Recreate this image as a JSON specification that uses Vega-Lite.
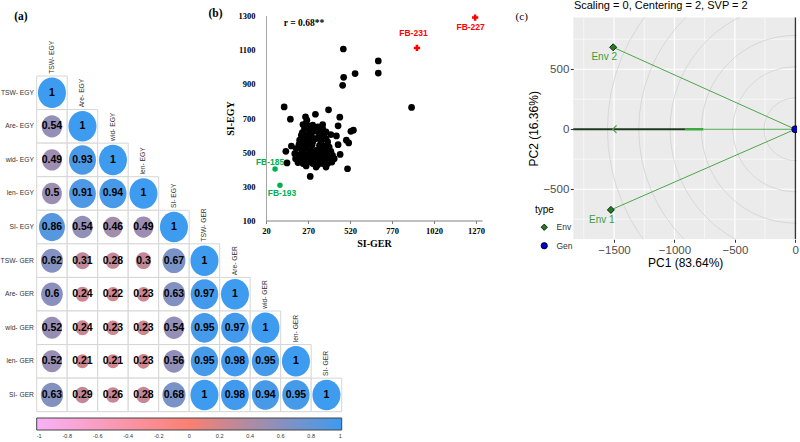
{
"$schema": "https://vega.github.io/schema/vega-lite/v6.json",
"width": 800, "height": 442, "padding": 0, "autosize": {"type": "none"},
"background": "white",
"config": {"view": {"stroke": null}, "font": "Liberation Sans", "axis": {"zindex": 1}},
"datasets": {
"corr": [
{"r":1,"c":1,"v":1},
{"r":2,"c":1,"v":0.54},{"r":2,"c":2,"v":1},
{"r":3,"c":1,"v":0.49},{"r":3,"c":2,"v":0.93},{"r":3,"c":3,"v":1},
{"r":4,"c":1,"v":0.5},{"r":4,"c":2,"v":0.91},{"r":4,"c":3,"v":0.94},{"r":4,"c":4,"v":1},
{"r":5,"c":1,"v":0.86},{"r":5,"c":2,"v":0.54},{"r":5,"c":3,"v":0.46},{"r":5,"c":4,"v":0.49},{"r":5,"c":5,"v":1},
{"r":6,"c":1,"v":0.62},{"r":6,"c":2,"v":0.31},{"r":6,"c":3,"v":0.28},{"r":6,"c":4,"v":0.3},{"r":6,"c":5,"v":0.67},{"r":6,"c":6,"v":1},
{"r":7,"c":1,"v":0.6},{"r":7,"c":2,"v":0.24},{"r":7,"c":3,"v":0.22},{"r":7,"c":4,"v":0.23},{"r":7,"c":5,"v":0.63},{"r":7,"c":6,"v":0.97},{"r":7,"c":7,"v":1},
{"r":8,"c":1,"v":0.52},{"r":8,"c":2,"v":0.24},{"r":8,"c":3,"v":0.23},{"r":8,"c":4,"v":0.23},{"r":8,"c":5,"v":0.54},{"r":8,"c":6,"v":0.95},{"r":8,"c":7,"v":0.97},{"r":8,"c":8,"v":1},
{"r":9,"c":1,"v":0.52},{"r":9,"c":2,"v":0.21},{"r":9,"c":3,"v":0.21},{"r":9,"c":4,"v":0.23},{"r":9,"c":5,"v":0.56},{"r":9,"c":6,"v":0.95},{"r":9,"c":7,"v":0.98},{"r":9,"c":8,"v":0.95},{"r":9,"c":9,"v":1},
{"r":10,"c":1,"v":0.63},{"r":10,"c":2,"v":0.29},{"r":10,"c":3,"v":0.26},{"r":10,"c":4,"v":0.28},{"r":10,"c":5,"v":0.68},{"r":10,"c":6,"v":1},{"r":10,"c":7,"v":0.98},{"r":10,"c":8,"v":0.94},{"r":10,"c":9,"v":0.95},{"r":10,"c":10,"v":1}
],
"vars": [
{"i":1,"name":"TSW- EGY"},{"i":2,"name":"Are- EGY"},{"i":3,"name":"wid- EGY"},{"i":4,"name":"len- EGY"},{"i":5,"name":"SI- EGY"},
{"i":6,"name":"TSW- GER"},{"i":7,"name":"Are- GER"},{"i":8,"name":"wid- GER"},{"i":9,"name":"len- GER"},{"i":10,"name":"SI- GER"}
],
"si": [
{"ger":128,"egy":765,"g":"n"},{"ger":165,"egy":693,"g":"n"},{"ger":255,"egy":707,"g":"n"},{"ger":263,"egy":687,"g":"n"},{"ger":314,"egy":722,"g":"n"},
{"ger":392,"egy":748,"g":"n"},{"ger":459,"egy":705,"g":"n"},{"ger":449,"egy":654,"g":"n"},{"ger":439,"egy":595,"g":"n"},{"ger":449,"egy":544,"g":"n"},
{"ger":461,"egy":487,"g":"n"},{"ger":505,"egy":403,"g":"n"},{"ger":498,"egy":570,"g":"n"},{"ger":512,"egy":554,"g":"n"},{"ger":540,"egy":629,"g":"n"},
{"ger":525,"egy":622,"g":"n"},{"ger":138,"egy":505,"g":"n"},{"ger":171,"egy":536,"g":"n"},{"ger":145,"egy":437,"g":"n"},{"ger":283,"egy":358,"g":"n"},
{"ger":480,"egy":1104,"g":"n"},{"ger":482,"egy":938,"g":"n"},{"ger":476,"egy":891,"g":"n"},{"ger":550,"egy":960,"g":"n"},{"ger":688,"egy":1034,"g":"n"},
{"ger":688,"egy":963,"g":"n"},{"ger":886,"egy":762,"g":"n"},
{"ger":240,"egy":662,"g":"n"},{"ger":269,"egy":654,"g":"n"},{"ger":298,"egy":658,"g":"n"},{"ger":328,"egy":648,"g":"n"},{"ger":357,"egy":638,"g":"n"},
{"ger":249,"egy":638,"g":"n"},{"ger":279,"egy":628,"g":"n"},{"ger":314,"egy":623,"g":"n"},{"ger":341,"egy":619,"g":"n"},{"ger":367,"egy":609,"g":"n"},
{"ger":236,"egy":615,"g":"n"},{"ger":263,"egy":603,"g":"n"},{"ger":289,"egy":599,"g":"n"},{"ger":357,"egy":589,"g":"n"},{"ger":377,"egy":579,"g":"n"},
{"ger":240,"egy":589,"g":"n"},{"ger":220,"egy":570,"g":"n"},{"ger":249,"egy":570,"g":"n"},{"ger":275,"egy":576,"g":"n"},{"ger":347,"egy":564,"g":"n"},
{"ger":387,"egy":560,"g":"n"},{"ger":216,"egy":544,"g":"n"},{"ger":243,"egy":540,"g":"n"},{"ger":269,"egy":550,"g":"n"},{"ger":294,"egy":540,"g":"n"},
{"ger":338,"egy":540,"g":"n"},{"ger":367,"egy":536,"g":"n"},{"ger":396,"egy":530,"g":"n"},{"ger":200,"egy":521,"g":"n"},{"ger":230,"egy":517,"g":"n"},
{"ger":259,"egy":521,"g":"n"},{"ger":283,"egy":511,"g":"n"},{"ger":318,"egy":511,"g":"n"},{"ger":347,"egy":511,"g":"n"},{"ger":377,"egy":511,"g":"n"},
{"ger":406,"egy":505,"g":"n"},{"ger":191,"egy":491,"g":"n"},{"ger":216,"egy":485,"g":"n"},{"ger":240,"egy":491,"g":"n"},{"ger":269,"egy":485,"g":"n"},
{"ger":298,"egy":485,"g":"n"},{"ger":328,"egy":482,"g":"n"},{"ger":357,"egy":482,"g":"n"},{"ger":387,"egy":478,"g":"n"},{"ger":416,"egy":482,"g":"n"},
{"ger":196,"egy":462,"g":"n"},{"ger":224,"egy":458,"g":"n"},{"ger":249,"egy":462,"g":"n"},{"ger":279,"egy":458,"g":"n"},{"ger":308,"egy":462,"g":"n"},
{"ger":338,"egy":452,"g":"n"},{"ger":367,"egy":452,"g":"n"},{"ger":396,"egy":458,"g":"n"},{"ger":426,"egy":462,"g":"n"},{"ger":210,"egy":439,"g":"n"},
{"ger":240,"egy":433,"g":"n"},{"ger":269,"egy":442,"g":"n"},{"ger":298,"egy":433,"g":"n"},{"ger":328,"egy":427,"g":"n"},{"ger":357,"egy":433,"g":"n"},
{"ger":387,"egy":433,"g":"n"},{"ger":412,"egy":442,"g":"n"},{"ger":259,"egy":419,"g":"n"},{"ger":318,"egy":413,"g":"n"},{"ger":377,"egy":413,"g":"n"},
{"ger":289,"egy":472,"g":"n"},{"ger":314,"egy":579,"g":"n"},{"ger":334,"egy":589,"g":"n"},{"ger":298,"egy":560,"g":"n"},{"ger":230,"egy":599,"g":"n"},
{"ger":377,"egy":619,"g":"n"},{"ger":406,"egy":603,"g":"n"},{"ger":259,"egy":668,"g":"n"},{"ger":289,"egy":638,"g":"n"},{"ger":357,"egy":662,"g":"n"},
{"ger":318,"egy":638,"g":"n"},
{"ger":74,"egy":402,"g":"lo","name":"FB-185"},{"ger":103,"egy":306,"g":"lo","name":"FB-193"},
{"ger":918,"egy":1110,"g":"hi","name":"FB-231"},{"ger":1264,"egy":1288,"g":"hi","name":"FB-227"}
],
"pca": [
{"name":"Env 1","type":"Env","pc1":-1526,"pc2":-672},
{"name":"Env 2","type":"Env","pc1":-1507,"pc2":683},
{"name":"Gen","type":"Gen","pc1":0,"pc2":0}
],
"gridx": [
{"v":-1750,"kind":"minor"},{"v":-1250,"kind":"minor"},{"v":-750,"kind":"minor"},{"v":-250,"kind":"minor"},
{"v":-1500,"kind":"major"},{"v":-1000,"kind":"major"},{"v":-500,"kind":"major"},{"v":0,"kind":"major"}
],
"gridy": [
{"v":750,"kind":"minor"},{"v":250,"kind":"minor"},{"v":-250,"kind":"minor"},{"v":-750,"kind":"minor"},
{"v":500,"kind":"major"},{"v":0,"kind":"major"},{"v":-500,"kind":"major"}
],
"rings": [{"r":260},{"r":520},{"r":780},{"r":1040},{"r":1300},{"r":1560}]
},
"layer": [
{
"layer": [
{"data":{"name":"corr"},"mark":{"type":"rect","fill":"white","stroke":"#D6D6D6","strokeWidth":1},
"encoding":{
"x":{"field":"c","type":"ordinal","scale":{"type":"band","domain":[1,2,3,4,5,6,7,8,9,10],"range":[36.7,341.7],"paddingInner":0,"paddingOuter":0},"axis":null},
"y":{"field":"r","type":"ordinal","scale":{"type":"band","domain":[1,2,3,4,5,6,7,8,9,10],"range":[76,411.7],"paddingInner":0,"paddingOuter":0},"axis":null}}},
{"data":{"name":"corr"},"mark":{"type":"point","filled":true,"opacity":1,"strokeWidth":0,"shape":"M0,-1C0.508,-1,0.92,-0.552,0.92,0C0.92,0.552,0.508,1,0,1C-0.508,1,-0.92,0.552,-0.92,0C-0.92,-0.552,-0.508,-1,0,-1Z"},
"encoding":{
"x":{"field":"c","type":"ordinal","scale":{"type":"band","domain":[1,2,3,4,5,6,7,8,9,10],"range":[36.7,341.7],"paddingInner":0,"paddingOuter":0},"axis":null},
"y":{"field":"r","type":"ordinal","scale":{"type":"band","domain":[1,2,3,4,5,6,7,8,9,10],"range":[76,411.7],"paddingInner":0,"paddingOuter":0},"axis":null},
"color":{"field":"v","type":"quantitative","scale":{"domain":[-1,0,1],"range":["#F8B2F8","#FA8072","#3D9BF0"],"interpolate":"rgb"},
"legend":{"orient":"none","legendX":36.7,"legendY":418,"direction":"horizontal","gradientLength":305,"gradientThickness":12,"title":null,"padding":0,
"values":[-1,-0.8,-0.6,-0.4,-0.2,0,0.2,0.4,0.6,0.8,1],"labelFontSize":5.5,"labelColor":"#333333","labelAlign":"center","labelOffset":4,"labelOverlap":false,
"labelExpr":"datum.value < 0 ? '-' + format(-datum.value, '') : format(datum.value, '')","gradientStrokeColor":"#444444","gradientStrokeWidth":1}},
"size":{"field":"v","type":"quantitative","scale":{"type":"linear","domain":[0,1],"range":[0,930],"zero":true},"legend":null}}},
{"data":{"name":"corr"},"mark":{"type":"text","fontWeight":"bold","fontSize":10.5,"color":"black","baseline":"middle","align":"center"},
"encoding":{
"x":{"field":"c","type":"ordinal","scale":{"type":"band","domain":[1,2,3,4,5,6,7,8,9,10],"range":[36.7,341.7],"paddingInner":0,"paddingOuter":0},"axis":null},
"y":{"field":"r","type":"ordinal","scale":{"type":"band","domain":[1,2,3,4,5,6,7,8,9,10],"range":[76,411.7],"paddingInner":0,"paddingOuter":0},"axis":null},
"text":{"field":"v","type":"nominal"}}},
{"data":{"name":"vars"},"mark":{"type":"text","fontSize":6.7,"color":"#333333","align":"right","baseline":"middle","dx":-18},
"encoding":{
"x":{"datum":1,"type":"ordinal","scale":{"type":"band","domain":[1,2,3,4,5,6,7,8,9,10],"range":[36.7,341.7],"paddingInner":0,"paddingOuter":0},"axis":null},
"y":{"field":"i","type":"ordinal","scale":{"type":"band","domain":[1,2,3,4,5,6,7,8,9,10],"range":[76,411.7],"paddingInner":0,"paddingOuter":0},"axis":null},
"text":{"field":"name","type":"nominal"}}},
{"data":{"name":"vars"},"mark":{"type":"text","fontSize":6.7,"color":"#333333","align":"left","baseline":"middle","angle":270,"yOffset":-19},
"encoding":{
"x":{"field":"i","type":"ordinal","scale":{"type":"band","domain":[1,2,3,4,5,6,7,8,9,10],"range":[36.7,341.7],"paddingInner":0,"paddingOuter":0},"axis":null},
"y":{"field":"i","type":"ordinal","scale":{"type":"band","domain":[1,2,3,4,5,6,7,8,9,10],"range":[76,411.7],"paddingInner":0,"paddingOuter":0},"axis":null},
"text":{"field":"name","type":"nominal"}}},
{"data":{"values":[{"t":"(a)"}]},"mark":{"type":"text","font":"Liberation Serif","fontWeight":"bold","fontSize":11.5,"color":"black","align":"center","baseline":"middle","dx":-31,"dy":-76},
"encoding":{
"x":{"datum":1,"type":"ordinal","scale":{"type":"band","domain":[1,2,3,4,5,6,7,8,9,10],"range":[36.7,341.7],"paddingInner":0,"paddingOuter":0},"axis":null},
"y":{"datum":1,"type":"ordinal","scale":{"type":"band","domain":[1,2,3,4,5,6,7,8,9,10],"range":[76,411.7],"paddingInner":0,"paddingOuter":0},"axis":null},
"text":{"field":"t","type":"nominal"}}}
]
},
{
"layer": [
{"data":{"name":"si"},"transform":[{"filter":"datum.g == 'n'"}],"mark":{"type":"point","filled":true,"opacity":1,"color":"black","size":45,"strokeWidth":0},
"encoding":{
"x":{"field":"ger","type":"quantitative","scale":{"domain":[20,1305],"range":[266,482],"nice":false,"zero":false},
"axis":{"orient":"bottom","offset":-221.5,"zindex":1,"values":[20,270,520,770,1020,1270],"format":"d","title":"SI-GER","grid":false,"domainColor":"#808080","tickColor":"#808080","tickSize":3,
"labelFont":"Liberation Serif","labelFontWeight":"bold","labelFontSize":8.5,"labelColor":"black","labelPadding":3,"labelFlush":false,
"titleFont":"Liberation Serif","titleFontWeight":"bold","titleFontSize":10,"titleColor":"black","titlePadding":3}},
"y":{"field":"egy","type":"quantitative","scale":{"domain":[100,1300],"range":[220.5,15.5],"nice":false,"zero":false},
"axis":{"orient":"left","offset":-266,"zindex":1,"values":[100,300,500,700,900,1100,1300],"format":"d","title":"SI-EGY","grid":false,"ticks":false,"domainColor":"#A6A6A6",
"labelFont":"Liberation Serif","labelFontWeight":"bold","labelFontSize":8.5,"labelColor":"black","labelPadding":11,
"titleFont":"Liberation Serif","titleFontWeight":"bold","titleFontSize":10,"titleColor":"black","titlePadding":3}}}},
{"data":{"name":"si"},"transform":[{"filter":"datum.g == 'lo'"}],"mark":{"type":"point","filled":true,"opacity":1,"color":"#00B050","size":30,"strokeWidth":0},
"encoding":{
"x":{"field":"ger","type":"quantitative","scale":{"domain":[20,1305],"range":[266,482],"nice":false,"zero":false}},
"y":{"field":"egy","type":"quantitative","scale":{"domain":[100,1300],"range":[220.5,15.5],"nice":false,"zero":false}}}},
{"data":{"name":"si"},"transform":[{"filter":"datum.g == 'hi'"}],"mark":{"type":"point","filled":true,"opacity":1,"color":"#FF0000","size":40,"shape":"cross","strokeWidth":0},
"encoding":{
"x":{"field":"ger","type":"quantitative","scale":{"domain":[20,1305],"range":[266,482],"nice":false,"zero":false}},
"y":{"field":"egy","type":"quantitative","scale":{"domain":[100,1300],"range":[220.5,15.5],"nice":false,"zero":false}}}},
{"data":{"name":"si"},"transform":[{"filter":"datum.name == 'FB-185'"}],"mark":{"type":"text","fontWeight":"bold","fontSize":8.5,"color":"#00B050","align":"center","baseline":"middle","dx":-5,"dy":-7},
"encoding":{
"x":{"field":"ger","type":"quantitative","scale":{"domain":[20,1305],"range":[266,482],"nice":false,"zero":false}},
"y":{"field":"egy","type":"quantitative","scale":{"domain":[100,1300],"range":[220.5,15.5],"nice":false,"zero":false}},
"text":{"field":"name","type":"nominal"}}},
{"data":{"name":"si"},"transform":[{"filter":"datum.name == 'FB-193'"}],"mark":{"type":"text","fontWeight":"bold","fontSize":8.5,"color":"#00B050","align":"center","baseline":"middle","dx":2,"dy":8},
"encoding":{
"x":{"field":"ger","type":"quantitative","scale":{"domain":[20,1305],"range":[266,482],"nice":false,"zero":false}},
"y":{"field":"egy","type":"quantitative","scale":{"domain":[100,1300],"range":[220.5,15.5],"nice":false,"zero":false}},
"text":{"field":"name","type":"nominal"}}},
{"data":{"name":"si"},"transform":[{"filter":"datum.name == 'FB-231'"}],"mark":{"type":"text","fontWeight":"bold","fontSize":8.5,"color":"#FF0000","align":"center","baseline":"middle","dx":-3.5,"dy":-15},
"encoding":{
"x":{"field":"ger","type":"quantitative","scale":{"domain":[20,1305],"range":[266,482],"nice":false,"zero":false}},
"y":{"field":"egy","type":"quantitative","scale":{"domain":[100,1300],"range":[220.5,15.5],"nice":false,"zero":false}},
"text":{"field":"name","type":"nominal"}}},
{"data":{"name":"si"},"transform":[{"filter":"datum.name == 'FB-227'"}],"mark":{"type":"text","fontWeight":"bold","fontSize":8.5,"color":"#FF0000","align":"center","baseline":"middle","dx":-4.5,"dy":9},
"encoding":{
"x":{"field":"ger","type":"quantitative","scale":{"domain":[20,1305],"range":[266,482],"nice":false,"zero":false}},
"y":{"field":"egy","type":"quantitative","scale":{"domain":[100,1300],"range":[220.5,15.5],"nice":false,"zero":false}},
"text":{"field":"name","type":"nominal"}}},
{"data":{"values":[{"t":"(b)"}]},"mark":{"type":"text","font":"Liberation Serif","fontWeight":"bold","fontSize":11.5,"color":"black","align":"center","baseline":"middle"},
"encoding":{
"x":{"datum":-280,"type":"quantitative","scale":{"domain":[20,1305],"range":[266,482],"nice":false,"zero":false}},
"y":{"datum":1309,"type":"quantitative","scale":{"domain":[100,1300],"range":[220.5,15.5],"nice":false,"zero":false}},
"text":{"field":"t","type":"nominal"}}},
{"data":{"values":[{"t":"r = 0.68**"}]},"mark":{"type":"text","font":"Liberation Serif","fontWeight":"bold","fontSize":9.5,"color":"black","align":"center","baseline":"middle"},
"encoding":{
"x":{"datum":246,"type":"quantitative","scale":{"domain":[20,1305],"range":[266,482],"nice":false,"zero":false}},
"y":{"datum":1254,"type":"quantitative","scale":{"domain":[100,1300],"range":[220.5,15.5],"nice":false,"zero":false}},
"text":{"field":"t","type":"nominal"}}}
]
},
{
"layer": [
{"data":{"values":[{}]},"mark":{"type":"rect","fill":"#EBEBEB"},
"encoding":{
"x":{"datum":-1837,"type":"quantitative","scale":{"domain":[-1837,14],"range":[573.3,797],"nice":false,"zero":false},
"axis":{"orient":"bottom","offset":-202.7,"zindex":1,"values":[-1500,-1000,-500,0],"format":"d","title":"PC1 (83.64%)","grid":false,"domain":false,"tickColor":"#333333","tickSize":3,
"labelFont":"Liberation Sans","labelFontSize":11.5,"labelColor":"#4D4D4D","labelPadding":2,"labelFlush":false,
"titleFont":"Liberation Sans","titleFontWeight":"normal","titleFontSize":12,"titleColor":"black","titlePadding":2}},
"x2":{"datum":14},
"y":{"datum":-917,"type":"quantitative","scale":{"domain":[-917,933],"range":[239.3,17.3],"nice":false,"zero":false},
"axis":{"orient":"left","offset":-573.3,"zindex":1,"values":[-500,0,500],"format":"d","title":"PC2 (16.36%)","grid":false,"domain":false,"tickColor":"#333333","tickSize":3,
"labelFont":"Liberation Sans","labelFontSize":11.5,"labelColor":"#4D4D4D","labelPadding":1.5,
"titleFont":"Liberation Sans","titleFontWeight":"normal","titleFontSize":12,"titleColor":"black","titlePadding":2}},
"y2":{"datum":933}}},
{"data":{"name":"gridx"},"transform":[{"filter":"datum.kind == 'minor'"}],"mark":{"type":"rule","stroke":"white","strokeWidth":0.6},
"encoding":{
"x":{"field":"v","type":"quantitative","scale":{"domain":[-1837,14],"range":[573.3,797],"nice":false,"zero":false}},
"y":{"datum":-917,"type":"quantitative","scale":{"domain":[-917,933],"range":[239.3,17.3],"nice":false,"zero":false}},
"y2":{"datum":933}}},
{"data":{"name":"gridx"},"transform":[{"filter":"datum.kind == 'major'"}],"mark":{"type":"rule","stroke":"white","strokeWidth":1.2},
"encoding":{
"x":{"field":"v","type":"quantitative","scale":{"domain":[-1837,14],"range":[573.3,797],"nice":false,"zero":false}},
"y":{"datum":-917,"type":"quantitative","scale":{"domain":[-917,933],"range":[239.3,17.3],"nice":false,"zero":false}},
"y2":{"datum":933}}},
{"data":{"name":"gridy"},"transform":[{"filter":"datum.kind == 'minor'"}],"mark":{"type":"rule","stroke":"white","strokeWidth":0.6},
"encoding":{
"y":{"field":"v","type":"quantitative","scale":{"domain":[-917,933],"range":[239.3,17.3],"nice":false,"zero":false}},
"x":{"datum":-1837,"type":"quantitative","scale":{"domain":[-1837,14],"range":[573.3,797],"nice":false,"zero":false}},
"x2":{"datum":14}}},
{"data":{"name":"gridy"},"transform":[{"filter":"datum.kind == 'major'"}],"mark":{"type":"rule","stroke":"white","strokeWidth":1.2},
"encoding":{
"y":{"field":"v","type":"quantitative","scale":{"domain":[-917,933],"range":[239.3,17.3],"nice":false,"zero":false}},
"x":{"datum":-1837,"type":"quantitative","scale":{"domain":[-1837,14],"range":[573.3,797],"nice":false,"zero":false}},
"x2":{"datum":14}}},
{"data":{"name":"rings"},"mark":{"type":"point","shape":"circle","filled":false,"stroke":"#D2D2D2","strokeWidth":0.8,"opacity":1},
"encoding":{
"x":{"datum":0,"type":"quantitative","scale":{"domain":[-1837,14],"range":[573.3,797],"nice":false,"zero":false}},
"y":{"datum":0,"type":"quantitative","scale":{"domain":[-917,933],"range":[239.3,17.3],"nice":false,"zero":false}},
"size":{"field":"r","type":"quantitative","scale":{"type":"pow","exponent":2,"domain":[0,1560],"range":[0,141150],"zero":true,"nice":false},"legend":null}}},
{"data":{"values":[{}]},"mark":{"type":"rule","stroke":"black","strokeWidth":1},
"encoding":{
"x":{"datum":0,"type":"quantitative","scale":{"domain":[-1837,14],"range":[573.3,797],"nice":false,"zero":false}},
"y":{"datum":-917,"type":"quantitative","scale":{"domain":[-917,933],"range":[239.3,17.3],"nice":false,"zero":false}},
"y2":{"datum":933}}},
{"data":{"values":[{}]},"mark":{"type":"rule","stroke":"#4DA64D","strokeWidth":1},
"encoding":{
"x":{"datum":-760,"type":"quantitative","scale":{"domain":[-1837,14],"range":[573.3,797],"nice":false,"zero":false}},
"x2":{"datum":0},
"y":{"datum":0,"type":"quantitative","scale":{"domain":[-917,933],"range":[239.3,17.3],"nice":false,"zero":false}}}},
{"data":{"values":[{}]},"mark":{"type":"rule","stroke":"#1E3A1E","strokeWidth":1.8},
"encoding":{
"x":{"datum":-1837,"type":"quantitative","scale":{"domain":[-1837,14],"range":[573.3,797],"nice":false,"zero":false}},
"x2":{"datum":-913},
"y":{"datum":0,"type":"quantitative","scale":{"domain":[-917,933],"range":[239.3,17.3],"nice":false,"zero":false}}}},
{"data":{"values":[{}]},"mark":{"type":"rule","stroke":"#3CAA3C","strokeWidth":2.5},
"encoding":{
"x":{"datum":-913,"type":"quantitative","scale":{"domain":[-1837,14],"range":[573.3,797],"nice":false,"zero":false}},
"x2":{"datum":-760},
"y":{"datum":0,"type":"quantitative","scale":{"domain":[-917,933],"range":[239.3,17.3],"nice":false,"zero":false}}}},
{"data":{"values":[{}]},"mark":{"type":"point","shape":"M0.5,-1L-0.5,0L0.5,1","filled":false,"stroke":"#4DA64D","strokeWidth":1.2,"size":60,"opacity":1},
"encoding":{
"x":{"datum":-1495,"type":"quantitative","scale":{"domain":[-1837,14],"range":[573.3,797],"nice":false,"zero":false}},
"y":{"datum":0,"type":"quantitative","scale":{"domain":[-917,933],"range":[239.3,17.3],"nice":false,"zero":false}}}},
{"data":{"name":"pca"},"transform":[{"filter":"datum.type == 'Env'"}],"mark":{"type":"rule","stroke":"#4DA64D","strokeWidth":1},
"encoding":{
"x":{"field":"pc1","type":"quantitative","scale":{"domain":[-1837,14],"range":[573.3,797],"nice":false,"zero":false}},
"x2":{"datum":0},
"y":{"field":"pc2","type":"quantitative","scale":{"domain":[-917,933],"range":[239.3,17.3],"nice":false,"zero":false}},
"y2":{"datum":0}}},
{"data":{"name":"pca"},"mark":{"type":"point","filled":true,"opacity":1,"stroke":"black","strokeWidth":0.8,"size":50},
"encoding":{
"x":{"field":"pc1","type":"quantitative","scale":{"domain":[-1837,14],"range":[573.3,797],"nice":false,"zero":false}},
"y":{"field":"pc2","type":"quantitative","scale":{"domain":[-917,933],"range":[239.3,17.3],"nice":false,"zero":false}},
"color":{"field":"type","type":"nominal","scale":{"domain":["Env","Gen"],"range":["#1F7F1F","#0000CC"]},
"legend":{"orient":"none","legendX":535,"legendY":205,"title":"type","titleFontSize":10,"titleFontWeight":"normal","titleColor":"black","titlePadding":8,
"labelFontSize":8.5,"labelColor":"#333333","symbolSize":40,"symbolOffset":5,"labelOffset":8,"rowPadding":7.5,"symbolStrokeColor":"black","symbolStrokeWidth":0.8,"padding":0}},
"shape":{"field":"type","type":"nominal","scale":{"domain":["Env","Gen"],"range":["diamond","circle"]}}}},
{"data":{"name":"pca"},"transform":[{"filter":"datum.type == 'Env'"}],"mark":{"type":"text","fontSize":10,"color":"#3C9C3C","align":"center","baseline":"middle","dx":-9,"dy":10},
"encoding":{
"x":{"field":"pc1","type":"quantitative","scale":{"domain":[-1837,14],"range":[573.3,797],"nice":false,"zero":false}},
"y":{"field":"pc2","type":"quantitative","scale":{"domain":[-917,933],"range":[239.3,17.3],"nice":false,"zero":false}},
"text":{"field":"name","type":"nominal"}}},
{"data":{"values":[{}]},"mark":{"type":"rect","fill":"white"},
"encoding":{
"x":{"datum":-1837,"type":"quantitative","scale":{"domain":[-1837,14],"range":[573.3,797],"nice":false,"zero":false}},
"x2":{"datum":100},
"y":{"datum":933,"type":"quantitative","scale":{"domain":[-917,933],"range":[239.3,17.3],"nice":false,"zero":false}},
"y2":{"datum":6000}}},
{"data":{"values":[{}]},"mark":{"type":"rect","fill":"white"},
"encoding":{
"x":{"datum":-1837,"type":"quantitative","scale":{"domain":[-1837,14],"range":[573.3,797],"nice":false,"zero":false}},
"x2":{"datum":100},
"y":{"datum":-917,"type":"quantitative","scale":{"domain":[-917,933],"range":[239.3,17.3],"nice":false,"zero":false}},
"y2":{"datum":-6000}}},
{"data":{"values":[{}]},"mark":{"type":"rect","fill":"white"},
"encoding":{
"x":{"datum":14,"type":"quantitative","scale":{"domain":[-1837,14],"range":[573.3,797],"nice":false,"zero":false}},
"x2":{"datum":200},
"y":{"datum":-6000,"type":"quantitative","scale":{"domain":[-917,933],"range":[239.3,17.3],"nice":false,"zero":false}},
"y2":{"datum":6000}}},
{"data":{"values":[{"t":"Scaling = 0, Centering = 2, SVP = 2"}]},"mark":{"type":"text","fontSize":11,"color":"black","align":"left","baseline":"middle"},
"encoding":{
"x":{"datum":-1832,"type":"quantitative","scale":{"domain":[-1837,14],"range":[573.3,797],"nice":false,"zero":false}},
"y":{"datum":1027,"type":"quantitative","scale":{"domain":[-917,933],"range":[239.3,17.3],"nice":false,"zero":false}},
"text":{"field":"t","type":"nominal"}}},
{"data":{"values":[{"t":"(c)"}]},"mark":{"type":"text","font":"Liberation Serif","fontSize":11,"color":"black","align":"center","baseline":"middle"},
"encoding":{
"x":{"datum":-2264,"type":"quantitative","scale":{"domain":[-1837,14],"range":[573.3,797],"nice":false,"zero":false}},
"y":{"datum":938,"type":"quantitative","scale":{"domain":[-917,933],"range":[239.3,17.3],"nice":false,"zero":false}},
"text":{"field":"t","type":"nominal"}}}
]
}
],
"resolve": {
"scale": {"x":"independent","y":"independent","color":"independent","size":"independent","shape":"independent"},
"axis": {"x":"independent","y":"independent"},
"legend": {"color":"independent","size":"independent","shape":"independent"}
}
}
